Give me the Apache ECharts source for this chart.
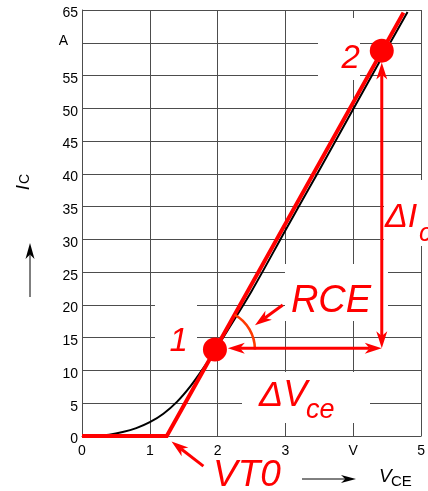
<!DOCTYPE html>
<html>
<head>
<meta charset="utf-8">
<script src="https://cdn.jsdelivr.net/npm/echarts@6/dist/echarts.min.js"></script>
<style>
  html, body { margin: 0; padding: 0; background: #fff; }
  #chart { width: 428px; height: 491px; }
</style>
</head>
<body>
<div id="chart"></div>
<script>
// Measured output characteristic: collector current vs collector-emitter voltage
const vceMeasured = [0.19, 0.4, 0.6, 0.8, 1.0, 1.2, 1.4, 1.6, 1.8, 2.0, 2.5, 3.0, 3.5, 4.0, 4.5, 4.8];
const icMeasured  = [0, 0.2, 0.6, 1.2, 2.1, 3.4, 5.2, 7.6, 10.5, 13.7, 22.1, 31.4, 40.6, 49.9, 59.2, 64.7];

// Piecewise-linear approximation: threshold voltage VT0, slope 1/RCE
const vceModel = [0, 1.25, 4.74];
const icModel  = [0, 0, 64.6];

// Operating points 1 and 2 on the approximation
const pointNames = ['1', '2'];
const pointV = [1.96, 4.42];
const pointI = [13.2, 58.8];

// Dimension arrows (ΔVce, ΔIc) and pointer arrows (RCE, VT0)
const arrowDV  = [[2.15, 13.4], [4.42, 13.4]];
const arrowDI  = [[4.42, 13.4], [4.42, 57.0]];
const arrowRCE = [[2.96, 20.0], [2.55, 16.9]];
const arrowVT0 = [[1.79, -4.6], [1.32, -0.85]];

// Tick labels (unit symbols replace one tick on each axis)
const xTickLabels = ['0', '1', '2', '3', 'V', '5'];
const yTickLabels = ['0', '5', '10', '15', '20', '25', '30', '35', '40', '45', '50', '55', 'A', '65'];

const FONT = '"Liberation Sans", Arial, sans-serif';
const RED = '#ff0000';
const GRID = '#4d4d4d';

const chart = echarts.init(document.getElementById('chart'), null, { renderer: 'canvas' });

const zip = (a, b) => a.map((v, i) => [v, b[i]]);

chart.setOption({
  animation: false,
  backgroundColor: '#fff',
  grid: { left: 82, right: 6, top: 10, bottom: 55, containLabel: false },
  xAxis: {
    type: 'value', min: 0, max: 5, interval: 1,
    axisLine: { show: true, lineStyle: { color: GRID, width: 1 } },
    axisTick: { show: false },
    splitLine: { show: true, lineStyle: { color: GRID, width: 1 } },
    axisLabel: {
      margin: 8, color: '#000', fontSize: 14, fontFamily: FONT,
      formatter: v => {
        const t = xTickLabels[Math.round(v)];
        return t === 'V' ? '{u|V}' : '{n|' + t + '}';
      },
      rich: {
        n: { fontSize: 14, fontFamily: FONT, color: '#000' },
        u: { fontSize: 14, fontFamily: FONT, color: '#000', padding: [0, 0, 5, 0] }
      }
    }
  },
  yAxis: {
    type: 'value', min: 0, max: 65, interval: 5,
    axisLine: { show: true, lineStyle: { color: GRID, width: 1 } },
    axisTick: { show: false },
    splitLine: { show: true, lineStyle: { color: GRID, width: 1 } },
    axisLabel: {
      margin: 4, color: '#000', fontSize: 14, fontFamily: FONT,
      formatter: v => {
        const t = yTickLabels[Math.round(v / 5)];
        return t === 'A' ? '{u|A}' : '{n|' + t + '}';
      },
      rich: {
        n: { fontSize: 14, fontFamily: FONT, color: '#000', padding: [7, 0, 0, 0] },
        u: { fontSize: 14, fontFamily: FONT, color: '#000', padding: [0, 10, 4, 0] }
      }
    }
  },
  series: [
    {
      name: 'measured',
      type: 'line',
      data: zip(vceMeasured, icMeasured),
      showSymbol: false,
      smooth: 0.3,
      lineStyle: { color: '#000', width: 2 },
      z: 2
    },
    {
      name: 'model',
      type: 'line',
      data: zip(vceModel, icModel),
      showSymbol: false,
      lineStyle: { color: RED, width: 4, cap: 'butt', join: 'miter' },
      z: 3
    },
    {
      name: 'points',
      type: 'scatter',
      data: pointV.map((v, i) => ({
        value: [v, pointI[i]],
        name: pointNames[i],
        label: i === 0
          ? { position: 'left', distance: 15, offset: [0, -8] }
          : { position: 'left', distance: 10, offset: [0, 8] }
      })),
      symbol: 'circle',
      symbolSize: 24,
      itemStyle: { color: RED, opacity: 1 },
      label: {
        show: true,
        formatter: p => p.name,
        color: RED, fontSize: 33, fontStyle: 'italic', fontFamily: FONT
      },
      emphasis: { disabled: true },
      z: 5
    }
  ]
});

const px = p => chart.convertToPixel({ gridIndex: 0 }, p);

// Arrow built from a shaft line and a notched head polygon
function arrowEls(a, b, heads, opt) {
  const dx = b[0] - a[0], dy = b[1] - a[1];
  const len = Math.hypot(dx, dy), ux = dx / len, uy = dy / len;
  const L = opt.len, W = opt.w / 2;
  let s = a.slice(), e = b.slice();
  const els = [];
  const head = (tip, d) => {
    const bx = tip[0] - d[0] * L, by = tip[1] - d[1] * L;
    const nx = -d[1], ny = d[0];
    const notch = [tip[0] - d[0] * L * 0.72, tip[1] - d[1] * L * 0.72];
    return {
      type: 'polygon', z: opt.z, silent: true,
      shape: { points: [tip, [bx + nx * W, by + ny * W], notch, [bx - nx * W, by - ny * W]] },
      style: { fill: opt.color }
    };
  };
  if (heads.end) { els.push(head(b, [ux, uy])); e = [b[0] - ux * L * 0.72, b[1] - uy * L * 0.72]; }
  if (heads.start) { els.push(head(a, [-ux, -uy])); s = [a[0] + ux * L * 0.72, a[1] + uy * L * 0.72]; }
  els.push({
    type: 'line', z: opt.z, silent: true,
    shape: { x1: s[0], y1: s[1], x2: e[0], y2: e[1] },
    style: { stroke: opt.color, lineWidth: opt.width }
  });
  return els;
}

const whiteBox = (x, y, w, h) => ({
  type: 'rect', z: 1, silent: true, shape: { x, y, width: w, height: h }, style: { fill: '#fff' }
});

const redText = (x, y, text, size, align) => ({
  type: 'text', z: 6, silent: true, x, y,
  style: {
    text, fill: RED, font: 'italic ' + size + 'px ' + FONT,
    align: align || 'center', verticalAlign: 'middle'
  }
});

const blackText = (x, y, text, size, italic, align) => ({
  type: 'text', z: 6, silent: true, x, y,
  style: {
    text, fill: '#000', font: (italic ? 'italic ' : '') + size + 'px ' + FONT,
    align: align || 'left', verticalAlign: 'middle'
  }
});

// Angle arc at point 1 between the horizontal and the model slope
const c1 = px([pointV[0], pointI[0]]);
const pa = px([vceModel[1], icModel[1]]);
const pb = px([vceModel[2], icModel[2]]);
const slopeAngle = Math.atan2(pb[1] - pa[1], pb[0] - pa[0]);

const redArrow = { color: RED, width: 3, len: 17, w: 11, z: 4 };

const graphics = [
  // white backgrounds behind the annotation texts
  whiteBox(155, 290, 42, 68),
  whiteBox(318, 18, 42, 62),
  whiteBox(242, 372, 128, 51),
  whiteBox(384, 180, 44, 66),
  whiteBox(285, 264, 103, 57),

  {
    type: 'arc', z: 4, silent: true,
    shape: { cx: c1[0], cy: c1[1], r: 40, startAngle: slopeAngle, endAngle: 0, clockwise: true },
    style: { stroke: '#ff3a00', lineWidth: 2.5, fill: null }
  },

  ...arrowEls(px(arrowDV[0]), px(arrowDV[1]), { start: true, end: true }, redArrow),
  ...arrowEls(px(arrowDI[0]), px(arrowDI[1]), { start: true, end: true }, redArrow),
  ...arrowEls(px(arrowRCE[0]), px(arrowRCE[1]), { end: true }, redArrow),
  ...arrowEls(px(arrowVT0[0]), px(arrowVT0[1]), { end: true }, redArrow),

  // axis direction arrows
  ...arrowEls([30, 297], [30, 243], { end: true }, { color: '#000', width: 1, len: 16, w: 9, z: 4 }),
  ...arrowEls([302, 479], [356, 479], { end: true }, { color: '#000', width: 1, len: 15, w: 8, z: 4 }),

  // annotation texts
  redText(331, 301, 'RCE', 38),
  redText(259, 396, 'ΔV', 36, 'left'),
  redText(306, 410, 'ce', 27, 'left'),
  redText(385, 218, 'ΔI', 34, 'left'),
  redText(419, 234, 'c', 26, 'left'),
  redText(247, 476, 'VT0', 37),

  // axis names
  {
    type: 'group', x: 24, y: 184, rotation: Math.PI / 2, silent: true,
    children: [
      { type: 'text', z: 6, x: -3.5, y: 0, style: { text: 'I', fill: '#000', font: 'italic 19px ' + FONT, align: 'center', verticalAlign: 'middle' } },
      { type: 'text', z: 6, x: 5, y: 1.5, style: { text: 'C', fill: '#000', font: '14px ' + FONT, align: 'center', verticalAlign: 'middle' } }
    ]
  },
  blackText(379, 477, 'V', 19, true),
  blackText(391, 482, 'CE', 15, false)
];

chart.setOption({ graphic: graphics });
</script>
</body>
</html>
